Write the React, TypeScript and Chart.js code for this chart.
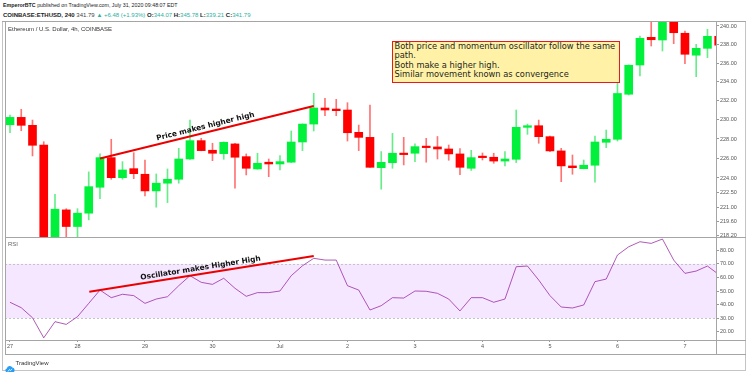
import React, { useEffect, useRef } from 'react';
import { Chart, registerables } from 'chart.js';

Chart.register(...registerables);

// ---------- data ----------
const dayLabels = ['27', '28', '29', '30', 'Jul', '2', '3', '4', '5', '6', '7'];
const dayTickIndex = [0, 6, 12, 18, 24, 30, 36, 42, 48, 54, 60];

const opens = [
  229.48, 230.25, 229.42, 227.38, 216.7, 220.78, 219.12, 220.45, 223.06, 226.08,
  224.03, 224.95, 224.38, 222.69, 223.47, 223.87, 225.94, 227.83, 226.84, 226.49,
  227.49, 226.18, 224.92, 225.61, 225.43, 225.61, 227.69, 229.55, 231.23, 231.12,
  231.02, 228.69, 228.17, 225.05, 225.56, 226.53, 226.53, 227.25, 227.18, 226.97,
  226.46, 224.99, 226.15, 226.12, 225.73, 225.91, 229.21, 229.38, 228.24, 226.77,
  225.23, 224.95, 225.3, 227.66, 227.97, 232.68, 235.79, 238.77, 238.48, 240.5,
  239.21, 236.84, 237.58, 238.88,
];
const highs = [
  230.5, 231.09, 229.97, 227.72, 222.34, 220.9, 220.9, 224.62, 226.46, 227.97,
  225.67, 226.59, 225.84, 224.41, 224.92, 227.04, 229.97, 228.07, 227.56, 227.7,
  227.55, 226.46, 226.53, 225.94, 226.28, 228.83, 229.57, 232.78, 232.25, 232.14,
  231.79, 229.45, 231.55, 226.7, 228.59, 228.17, 227.49, 228.07, 228.26, 227.38,
  227.0, 226.83, 226.56, 226.53, 226.7, 231.02, 229.55, 229.97, 228.3, 227.04,
  226.35, 225.84, 228.31, 228.93, 234.08, 235.8, 238.91, 240.44, 240.8, 240.7,
  239.46, 238.01, 239.64, 239.2,
];
const lows = [
  228.65, 228.86, 226.25, 215.9, 216.3, 217.9, 217.9, 219.78, 221.9, 223.87,
  223.87, 223.93, 222.18, 221.05, 221.51, 223.47, 225.9, 226.78, 225.77, 225.91,
  222.96, 224.31, 224.89, 224.13, 224.82, 225.58, 226.8, 228.83, 230.42, 230.42,
  227.79, 226.8, 225.07, 222.86, 224.99, 225.33, 225.67, 225.61, 225.94, 225.81,
  224.35, 224.77, 225.84, 225.5, 225.23, 225.57, 228.48, 227.56, 226.7, 223.63,
  224.38, 224.93, 223.57, 227.11, 227.79, 232.6, 234.62, 237.83, 237.29, 238.08,
  235.92, 234.54, 236.58, 237.5,
];
const closes = [
  230.25, 229.42, 227.35, 216.6, 220.85, 219.12, 220.45, 223.12, 226.08, 224.03,
  224.82, 224.44, 222.69, 223.47, 223.87, 225.94, 227.83, 226.8, 226.53, 227.66,
  226.12, 224.99, 225.5, 225.43, 225.67, 227.69, 229.55, 231.23, 231.02, 230.95,
  228.65, 228.17, 225.09, 225.6, 226.53, 226.39, 227.21, 227.11, 226.97, 226.46,
  225.09, 226.08, 226.08, 225.73, 225.94, 229.21, 229.38, 228.24, 226.77, 225.23,
  225.05, 225.3, 227.69, 227.97, 232.76, 235.76, 238.66, 238.51, 240.6, 239.27,
  236.94, 237.58, 238.88, 237.91,
];

const rsiValues = [
  41.7, 37.7, 30.3, 15.5, 27.4, 25.4, 31.1, 40.9, 50.7, 45.1,
  47.6, 46.6, 40.9, 44.1, 45.8, 53.9, 61.3, 56.4, 54.9, 59.4,
  52.0, 46.1, 48.8, 48.8, 50.0, 61.3, 68.6, 74.1, 72.8, 72.8,
  53.9, 50.7, 36.0, 39.2, 45.1, 44.8, 50.0, 49.8, 48.3, 44.1,
  35.3, 45.1, 45.1, 41.7, 44.1, 67.9, 68.4, 58.1, 46.6, 38.2,
  37.5, 39.7, 56.9, 58.8, 76.5, 82.6, 86.3, 85.1, 88.3, 72.8,
  63.0, 64.7, 68.4, 62.2,
];

const priceTicks = [240, 238, 236, 234, 232, 230, 228, 226, 224, 222.5, 221, 219.6, 218.2];
const rsiTicks = [80, 70, 60, 50, 40, 30, 20];
const rsiBand = [30, 70];

const priceTrend = [{ x: 8, y: 226.0 }, { x: 27, y: 231.45 }];
const rsiTrend = [{ x: 7.05, y: 49.5 }, { x: 27, y: 75.8 }];

// ---------- styling ----------
const X_MIN = -0.444;
const X_MAX = 62.76;
const P_MIN = 218.08;
const P_MAX = 240.545;
const R_MIN = 13.9;
const R_MAX = 89.8;

const UP = 'rgb(0,240,60)';
const DOWN = 'rgb(255,0,0)';
const UP_WICK = 'rgba(0,225,60,0.6)';
const DOWN_WICK = 'rgba(255,0,0,0.55)';
const LINE = '#a5a5a5';
const AXIS_TEXT = '#555';
const TEAL = '#2eaf9f';

const isUp = opens.map((o, i) => closes[i] >= o);

function trendLabel(id: string, datasetIndex: number, text: string) {
  return {
    id,
    afterDatasetsDraw(chart: any) {
      const meta = chart.getDatasetMeta(datasetIndex);
      const p0 = meta.data[0];
      const p1 = meta.data[1];
      if (!p0 || !p1) return;
      const ang = Math.atan2(p1.y - p0.y, p1.x - p0.x);
      const ctx = chart.ctx;
      ctx.save();
      ctx.translate((p0.x + p1.x) / 2, (p0.y + p1.y) / 2);
      ctx.rotate(ang);
      ctx.font = 'bold 7.4px "DejaVu Sans"';
      ctx.textAlign = 'center';
      ctx.textBaseline = 'alphabetic';
      ctx.fillStyle = '#111';
      ctx.fillText(text, 0, -3.8);
      ctx.restore();
    },
  };
}

const bandPlugin = {
  id: 'rsiBand',
  beforeDatasetsDraw(chart: any) {
    const { ctx, chartArea: a } = chart;
    const y = chart.scales.y;
    const yTop = y.getPixelForValue(rsiBand[1]);
    const yBot = y.getPixelForValue(rsiBand[0]);
    ctx.save();
    ctx.fillStyle = 'rgba(153,21,255,0.1)';
    ctx.fillRect(a.left, yTop, a.right - a.left, yBot - yTop);
    ctx.strokeStyle = '#c4c4c4';
    ctx.lineWidth = 1;
    ctx.setLineDash([2, 2]);
    [yTop, yBot].forEach((yy) => {
      ctx.beginPath();
      ctx.moveTo(a.left, Math.round(yy) + 0.5);
      ctx.lineTo(a.right, Math.round(yy) + 0.5);
      ctx.stroke();
    });
    ctx.restore();
  },
};

const axisFont = { size: 5.5, family: '"Liberation Sans", Arial, sans-serif' };

export default function App() {
  const priceRef = useRef<HTMLCanvasElement>(null);
  const rsiRef = useRef<HTMLCanvasElement>(null);

  useEffect(() => {
    const bodies = opens.map((o, i) => ({ x: i, y: [o, closes[i]] }));
    const wicks = lows.map((l, i) => ({ x: i, y: [l, highs[i]] }));

    const priceChart = new Chart(priceRef.current as HTMLCanvasElement, {
      type: 'bar',
      data: {
        datasets: [
          {
            type: 'line',
            data: priceTrend,
            borderColor: 'rgb(235,0,0)',
            borderWidth: 2,
            pointRadius: 0,
            order: 0,
          } as any,
          {
            data: bodies as any,
            backgroundColor: isUp.map((u) => (u ? UP : DOWN)),
            barThickness: 8,
            minBarLength: 1.5,
            grouped: false,
            order: 1,
          },
          {
            data: wicks as any,
            backgroundColor: isUp.map((u) => (u ? UP_WICK : DOWN_WICK)),
            barThickness: 1,
            grouped: false,
            order: 2,
          },
        ],
      },
      options: {
        responsive: false,
        animation: false,
        devicePixelRatio: 1,
        layout: { padding: { left: 5, top: 21, right: 0, bottom: 135 } },
        plugins: { legend: { display: false }, tooltip: { enabled: false } },
        scales: {
          x: { type: 'linear', min: X_MIN, max: X_MAX, bounds: 'data', display: false, offset: false },
          y: {
            type: 'logarithmic',
            position: 'right',
            min: P_MIN,
            max: P_MAX,
            bounds: 'data',
            afterBuildTicks: (s: any) => {
              s.ticks = priceTicks.map((v) => ({ value: v }));
            },
            afterFit: (s: any) => {
              s.width = 34;
            },
            ticks: {
              autoSkip: false,
              padding: 1,
              color: AXIS_TEXT,
              font: axisFont,
              callback: (v: any) => Number(v).toFixed(2),
            },
            grid: { drawOnChartArea: false, drawTicks: true, tickLength: 3, color: '#999' },
            border: { display: false },
          } as any,
        },
      },
      plugins: [trendLabel('priceLabel', 0, 'Price makes higher high')],
    });

    const rsiChart = new Chart(rsiRef.current as HTMLCanvasElement, {
      type: 'line',
      data: {
        datasets: [
          {
            data: rsiTrend,
            borderColor: 'rgb(235,0,0)',
            borderWidth: 2,
            pointRadius: 0,
            order: 0,
          },
          {
            data: rsiValues.map((v, i) => ({ x: i, y: v })),
            borderColor: 'rgba(142,21,153,0.7)',
            borderWidth: 1,
            pointRadius: 0,
            tension: 0,
            order: 1,
          },
        ],
      },
      options: {
        responsive: false,
        animation: false,
        devicePixelRatio: 1,
        layout: { padding: { left: 5, top: 237, right: 0, bottom: 18 } },
        plugins: { legend: { display: false }, tooltip: { enabled: false } },
        scales: {
          x: {
            type: 'linear',
            min: X_MIN,
            max: X_MAX,
            bounds: 'data',
            position: 'bottom',
            afterBuildTicks: (s: any) => {
              s.ticks = dayTickIndex.map((v) => ({ value: v }));
            },
            afterFit: (s: any) => {
              s.height = 14;
              s.paddingLeft = 0;
              s.paddingRight = 0;
            },
            ticks: {
              autoSkip: false,
              maxRotation: 0,
              padding: 1,
              color: AXIS_TEXT,
              font: axisFont,
              callback: (v: any) => {
                const k = dayTickIndex.indexOf(Number(v));
                return k >= 0 ? dayLabels[k] : '';
              },
            },
            grid: { drawOnChartArea: false, drawTicks: true, tickLength: 2, color: '#999' },
            border: { display: false },
          } as any,
          y: {
            type: 'linear',
            position: 'right',
            min: R_MIN,
            max: R_MAX,
            bounds: 'data',
            afterBuildTicks: (s: any) => {
              s.ticks = rsiTicks.map((v) => ({ value: v }));
            },
            afterFit: (s: any) => {
              s.width = 34;
            },
            ticks: {
              autoSkip: false,
              padding: 1,
              color: AXIS_TEXT,
              font: axisFont,
              callback: (v: any) => Number(v).toFixed(2),
            },
            grid: { drawOnChartArea: false, drawTicks: true, tickLength: 3, color: '#999' },
            border: { display: false },
          } as any,
        },
      },
      plugins: [bandPlugin, trendLabel('rsiLabel', 0, 'Oscillator makes Higher High')],
    });

    return () => {
      priceChart.destroy();
      rsiChart.destroy();
    };
  }, []);

  const hl = (x1: number, x2: number, y: number, c = LINE) => (
    <div style={{ position: 'absolute', left: x1, top: y, width: x2 - x1, height: 1, background: c }} />
  );
  const vl = (x: number, y1: number, y2: number, c = LINE) => (
    <div style={{ position: 'absolute', left: x, top: y1, width: 1, height: y2 - y1, background: c }} />
  );

  const canvasStyle: React.CSSProperties = { position: 'absolute', left: 0, top: 0, width: 750, height: 372 };

  return (
    <div
      style={{
        position: 'absolute',
        left: 0,
        top: 0,
        width: 750,
        height: 372,
        overflow: 'hidden',
        background: '#fff',
        fontFamily: '"Liberation Sans", Arial, sans-serif',
        color: '#222',
      }}
    >
      <div style={{ position: 'absolute', left: 3, top: 1.8, fontSize: 5.3, lineHeight: '7px', whiteSpace: 'nowrap' }}>
        <b>EmperorBTC</b> published on TradingView.com, July 31, 2020 09:48:07 EDT
      </div>
      <div style={{ position: 'absolute', left: 3, top: 11.8, fontSize: 6, lineHeight: '7px', whiteSpace: 'nowrap' }}>
        <b>COINBASE:ETHUSD, 240</b> <span style={{ color: '#444' }}>341.79</span>{' '}
        <span style={{ color: TEAL }}>▲ +6.48 (+1.93%)</span> <b>O:</b>
        <span style={{ color: TEAL }}>344.07</span> <b>H:</b>
        <span style={{ color: TEAL }}>345.78</span> <b>L:</b>
        <span style={{ color: TEAL }}>339.21</span> <b>C:</b>
        <span style={{ color: TEAL }}>341.79</span>
      </div>

      <canvas ref={priceRef} width={750} height={372} style={canvasStyle} />
      <canvas ref={rsiRef} width={750} height={372} style={canvasStyle} />

      {/* frame lines */}
      {vl(2, 21, 371, '#c4c4c4')}
      {vl(745, 21, 371, '#c4c4c4')}
      {hl(2, 746, 21)}
      {hl(2, 746, 370, '#c4c4c4')}
      {vl(5, 21, 354)}
      {vl(716, 21, 354)}
      {hl(5, 746, 237)}
      {hl(5, 746, 340)}
      {hl(5, 746, 354)}

      <div style={{ position: 'absolute', left: 8, top: 25.8, fontSize: 6, lineHeight: '7px', color: '#333', whiteSpace: 'nowrap' }}>
        Ethereum / U.S. Dollar, 4h, COINBASE
      </div>
      <div style={{ position: 'absolute', left: 8, top: 240.5, fontSize: 6, lineHeight: '7px', color: '#666' }}>RSI</div>

      <div
        style={{
          position: 'absolute',
          left: 392,
          top: 41,
          width: 228,
          height: 42,
          boxSizing: 'border-box',
          background: '#fff2a6',
          border: '1.5px solid #e51a1a',
          padding: '0 0 0 1.5px',
          fontFamily: '"DejaVu Sans", sans-serif',
          fontSize: 8.3,
          lineHeight: '9.3px',
          color: '#1e1e1e',
          whiteSpace: 'nowrap',
        }}
      >
        Both price and momentum oscillator follow the same
        <br />
        path.
        <br />
        Both make a higher high.
        <br />
        Similar movement known as convergence
      </div>

      <div style={{ position: 'absolute', left: 5, top: 359, width: 10, height: 8 }}>
        <svg width="10" height="8" viewBox="0 0 10 8">
          <path d="M2.2 7.5 A2.1 2.1 0 0 1 1.8 3.4 A3 3 0 0 1 7.4 2.6 A2.5 2.5 0 0 1 7.8 7.5 Z" fill="#2a9df4" />
          <path d="M3 6.5 L4.5 4.5 L5.5 5.6 L7 3.8" stroke="#fff" strokeWidth="0.8" fill="none" />
        </svg>
      </div>
      <div style={{ position: 'absolute', left: 15.5, top: 359.5, fontSize: 6, lineHeight: '7px', color: '#333' }}>TradingView</div>
    </div>
  );
}
